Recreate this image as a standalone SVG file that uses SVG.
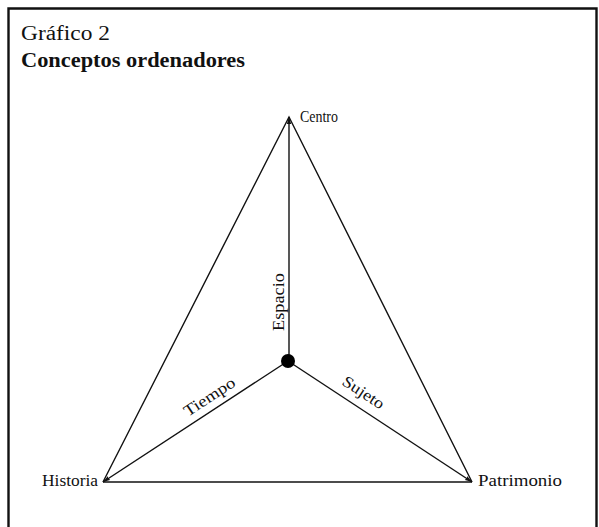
<svg xmlns="http://www.w3.org/2000/svg" width="599" height="527" viewBox="0 0 599 527">
<style>
text{font-family:"Liberation Serif","Times New Roman",serif;fill:#111}
.lab{font-size:16px}
.ttl{font-size:20px}
.edge{stroke:#111;stroke-width:1.4;fill:none}
</style>
<defs>
<marker id="ah" markerWidth="8" markerHeight="6" refX="7" refY="3" orient="auto" markerUnits="userSpaceOnUse">
<path d="M0,0.8 L7,3 L0,5.2 Z" fill="#111"/>
</marker>
</defs>
<rect width="599" height="527" fill="#fff"/>
<g id="frame">
<path d="M8.5,530 L8.5,8.5 L596.5,8.5 L596.5,530" fill="none" stroke="#111" stroke-width="2.4"/>
</g>
<g id="title">
<text class="ttl" x="21" y="40" textLength="89" lengthAdjust="spacingAndGlyphs">Gráfico 2</text>
<text class="ttl" x="21" y="67" font-weight="bold" textLength="224" lengthAdjust="spacingAndGlyphs">Conceptos ordenadores</text>
</g>
<g id="connectors">
<polyline class="edge" points="103,482 289,117 472,482"/>
<line class="edge" x1="103" y1="482" x2="472" y2="482"/>
<line class="edge" x1="289" y1="361" x2="289" y2="117" marker-end="url(#ah)"/>
<line class="edge" x1="288" y1="361" x2="103" y2="482" marker-end="url(#ah)"/>
<line class="edge" x1="288" y1="361" x2="472" y2="482" marker-end="url(#ah)"/>
<text class="lab" transform="translate(284,331) rotate(-90)" textLength="58" lengthAdjust="spacingAndGlyphs">Espacio</text>
<text class="lab" transform="translate(188,417) rotate(-33.2)" textLength="58" lengthAdjust="spacingAndGlyphs">Tiempo</text>
<text class="lab" transform="translate(341,384) rotate(33.3)" textLength="47" lengthAdjust="spacingAndGlyphs">Sujeto</text>
</g>
<g id="node-centro"><text class="lab" x="300" y="122" textLength="38" lengthAdjust="spacingAndGlyphs">Centro</text></g>
<g id="node-historia"><text class="lab" x="42" y="486" textLength="56" lengthAdjust="spacingAndGlyphs">Historia</text></g>
<g id="node-patrimonio"><text class="lab" x="478" y="486" textLength="84" lengthAdjust="spacingAndGlyphs">Patrimonio</text></g>
<g id="node-centre"><circle cx="288" cy="361" r="7" fill="#000"/></g>
</svg>
